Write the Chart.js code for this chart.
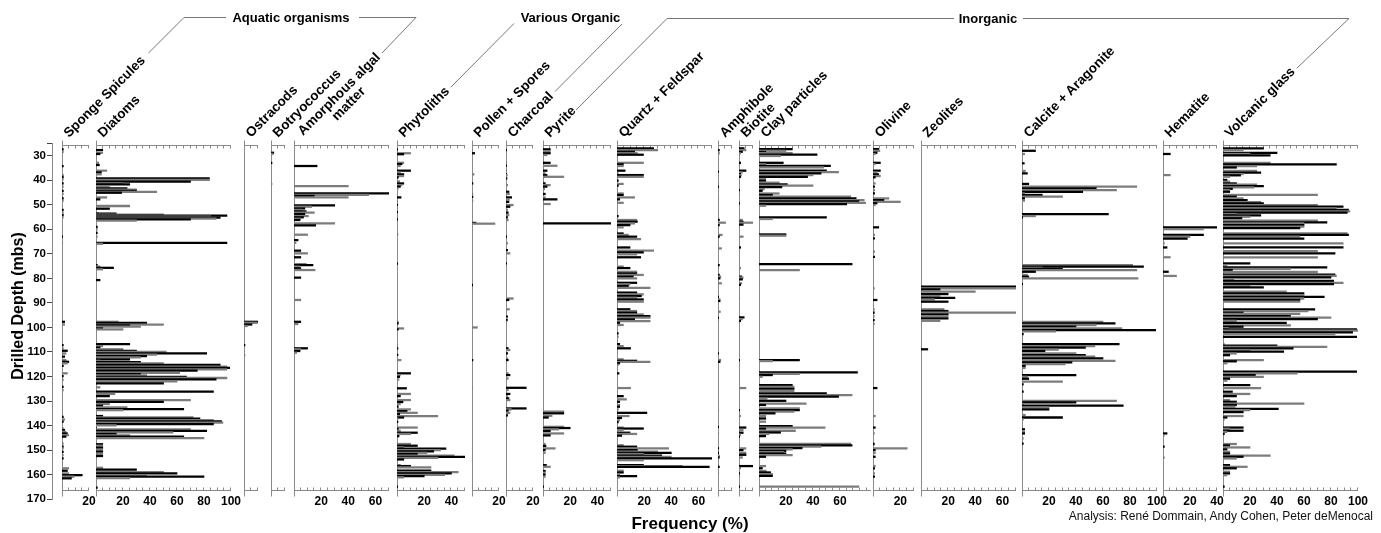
<!DOCTYPE html>
<html><head><meta charset="utf-8">
<script src="https://cdn.jsdelivr.net/npm/chart.js@4.4.1/dist/chart.umd.min.js"></script>
<style>
html,body{margin:0;padding:0;background:#fff;}
#wrap{position:relative;width:1381px;height:533px;overflow:hidden;background:#fff;}
#wrap canvas{position:absolute;top:0;}
#ov{position:absolute;left:0;top:0;pointer-events:none;}
</style></head><body>
<div id="wrap"><svg id="ov" width="1381" height="533" xmlns="http://www.w3.org/2000/svg"></svg></div>
<script>
// ---------- DATA: [depth (mbs), frequency (%)] ----------
const sponge = [[27.4,1],[28.4,1],[34.2,1],[37.9,1],[38.6,1],[39.6,1],[41.3,1],[42.6,1],[44.3,1],[45.6,1],[47.4,1],[48.3,1],[52.1,1],[53.2,1],[54.2,1],[55.1,1],[63,0.5],[65.5,0.5],[97.7,2],[98.8,2],[107.2,1],[108.5,1],[109.5,4],[110.6,3],[111.9,2],[113.3,3],[114,5],[114.6,4],[115.7,1],[118.7,4],[119.8,1],[121.4,1],[124.2,1],[125.5,1],[136.4,1],[137.5,2],[138.4,1],[141.1,1],[141.8,2],[142.5,3],[143.2,4],[143.9,5],[144.5,3],[147.3,1],[148.6,1],[149.3,1],[150.7,1],[152,1],[153.4,1],[157.4,5],[158.4,4],[159.5,5],[160.2,15],[160.8,9],[161.5,7],[164.9,0.5]];
const diatoms = [[27.7,5],[28.8,5],[29.3,3],[32.9,2],[33.8,2.5],[36.1,8],[36.8,4],[37.6,4],[39.2,84],[39.9,84],[40.6,70],[41.3,20],[41.7,25],[42.6,10],[43.3,23],[43.8,30],[44.3,30],[44.7,45],[45.1,19],[47,8],[47.8,3],[50.5,25],[51.6,10],[53.5,2],[53.6,15],[54,50],[54.4,97],[54.8,85],[55.2,92],[55.6,89],[56,70],[56.5,30],[59,1],[60,1],[61.5,1],[63,1],[65.5,97],[65.9,5],[74.6,1],[75.2,3],[75.7,13],[76.3,5],[80.7,3],[97.7,16.5],[98.1,37.5],[98.8,50],[99.2,25],[99.7,33],[100.4,5],[100.8,20],[106.8,25],[107.6,5],[108.2,3],[108.9,20],[109.5,30],[110,52],[110.6,82],[111.1,45],[111.7,37.5],[112.2,33],[113,25],[113.6,3],[114.1,33],[114.6,50],[115.3,92],[116,97],[116.5,99],[117.1,97],[117.6,75],[118.5,62],[119,33],[119.5,37.5],[120.1,67],[120.6,97],[121.2,89],[122,60],[122.8,50],[124.4,3],[126.2,87],[127.1,14],[128,10],[129.6,70],[130.3,50],[131.2,10],[131.9,5],[132.6,23],[133.3,65],[133.7,20],[136.1,5],[136.7,72],[137.2,77],[137.8,87],[138.3,93],[138.8,94],[139.4,87],[139.9,15],[141.1,0.5],[141.5,70],[142.2,82],[142.8,57],[143.4,15],[144,25],[144.5,65],[145.1,80],[147.6,5],[148.2,5],[149,5],[149.8,5],[150.6,5],[151.5,5],[152.4,5],[157.2,5],[157.9,30],[159,50],[159.5,60],[160.2,37.5],[160.8,80],[161.4,25],[165.3,1]];
const ostracods = [[97.7,10],[98.1,9.4],[98.8,5.7],[99.4,2.5],[107.2,0.7],[111.3,0.7]];
const botryococcus = [[28.8,2],[29.3,1.5],[32.9,0.7],[41.5,0.7]];
const amorphous = [[34.2,17],[42.4,40],[45.4,70],[46,55],[46.4,15],[47,40],[50.2,30],[50.8,13],[51.5,8],[52.1,6],[52.7,9],[53.2,15],[53.8,8],[54.6,10.6],[55.1,7],[55.7,5],[56.2,4.4],[57.6,30],[58.4,16],[62.2,10],[64.4,3],[65.5,1.5],[68.7,5],[69.8,10],[71.4,5],[74.2,9],[74.6,14],[75.2,4],[75.9,5],[76.6,15.5],[79.7,5],[88.8,5],[97.7,5],[98.6,3],[108.5,10],[108.9,5],[109.6,4.4],[110.3,2]];
const phytoliths = [[27.4,0.5],[29,10],[29.4,5],[32.9,5],[33.4,3.7],[34.2,2.5],[36.1,10],[36.8,2.5],[37.6,5],[38.3,5],[38.8,1],[40.5,2],[41.3,5],[42,3.7],[42.6,2.5],[43.3,1],[47,3],[48.5,0.5],[50,0.5],[51.5,0.5],[53,0.5],[54.5,0.5],[56,0.5],[62.2,0.7],[74,0.5],[97.7,1],[98.3,1],[100.4,5],[100.8,1],[107.2,0.5],[108.5,0.7],[109.9,0.5],[111.2,0.7],[113.3,3],[118.7,10],[119.4,2.5],[120.1,2],[121.2,1.5],[124.8,7],[127.1,10],[128,2.5],[129.6,10],[130.4,4.4],[131.2,2.5],[132.3,1],[133.4,10],[134.1,7.4],[134.8,15],[135.3,2],[136.1,30],[136.7,5],[137.2,0.7],[138.5,0.7],[140.8,15],[141.3,1],[142.1,2.5],[142.9,15],[143.4,10],[144.3,1.5],[147.5,10],[148.2,15],[148.9,5],[149.4,36],[150,32],[150.5,27],[151.1,22],[151.6,15],[152.2,42],[152.7,50],[153.2,30],[153.8,5],[156.1,2.5],[156.5,10],[157,25],[158.4,25],[159,45],[159.5,40],[160.1,35],[160.6,20],[161.1,5],[164.9,0.5]];
const pollen = [[29,2],[37.6,1.5],[41.3,0.7],[45.6,0.7],[46.8,0.7],[48.3,0.7],[57.4,3],[57.7,17],[82.7,0.5],[100,4],[113.3,0.7],[124.4,0.5]];
const charcoal = [[27.7,0.5],[33,0.5],[34,0.5],[36,0.5],[37.5,0.5],[37.9,1],[39.2,0.7],[42,1.2],[44.7,2.2],[45.6,2.5],[47,4.2],[47.8,2.5],[48.8,2.2],[50.1,5.4],[50.8,3],[52.1,1.2],[53.2,1.7],[54.2,2.2],[55.1,1.2],[56.2,1.7],[63,0.5],[65.7,1.2],[68.5,1.2],[69.8,3],[73.9,0.5],[88.2,5.4],[88.8,2.2],[92.6,2.5],[95.6,1.2],[96.3,1],[97,1],[97.7,0.5],[108.5,1.7],[109.2,3],[110.6,1.2],[112.7,1.2],[113.3,1.7],[118.7,1.7],[119.4,3],[120.8,1.7],[124.6,15],[125.5,1.7],[127.1,3],[128,1.2],[128.9,2.2],[129.6,3],[133,15],[133.4,4],[133.9,1.7],[134.8,3],[135.8,1.2]];
const pyrite = [[27.4,5.4],[28.2,5.4],[29,5.4],[29.7,3],[32.9,5.4],[34.1,10.4],[36.1,3],[37.2,1.7],[37.9,3],[38.6,15.3],[41.3,1.7],[42,5.4],[42.6,3],[43.6,1.2],[45.6,1.7],[47,1.7],[47.8,10.4],[49.7,5.4],[57.6,50],[134.3,15.3],[135,15.3],[136,6.7],[136.7,4],[140.5,15.3],[141,20],[141.5,11.6],[142.2,5.4],[143.2,15.3],[144,5.4],[147.5,1.7],[148.3,2.2],[149.3,9],[150,1.7],[151.1,1.7],[156.1,2.5],[156.8,5.4],[158.5,1.7],[159.2,1.7],[160,1.7],[160.8,1.7],[164.9,0.5]];
const quartz = [[27,27],[27.7,30],[28.4,13],[29,15],[29.6,19.5],[32.9,19.5],[33.5,4.7],[34.2,4.7],[36.1,6],[37.2,1],[37.9,19.5],[38.6,19.5],[40.2,1],[41.5,4.7],[42.2,1],[45.4,4.7],[46,4.7],[47,13],[47.8,2],[49.2,4.7],[54.6,1],[56.2,14.6],[56.9,15],[57.6,13],[58.3,9.6],[59.2,4.7],[61.7,4.7],[62.3,8.4],[63,14.6],[64,17.5],[67.4,9.6],[68.7,27],[69.4,19.5],[70.2,14.6],[71.4,17.5],[75.2,4.7],[75.8,9.6],[77.3,14.6],[78,14.6],[78.6,19.5],[79.3,12],[80,14.6],[81.8,14.6],[82.4,9.6],[83.1,8.4],[83.9,24.4],[85.8,14.6],[86.5,19.5],[87.2,18],[87.9,14.6],[88.6,19.5],[89.5,19.5],[92.6,9.6],[93.3,14.6],[94,14.6],[94.7,19.5],[95.4,24.4],[96,24.4],[96.7,13],[97.4,24.4],[98.1,2],[99,4.7],[102.4,1],[103.8,1],[106.8,2],[107.6,4.7],[108.5,10],[113,4.7],[113.6,14.6],[114,24.4],[114.6,2],[115.3,1],[118.7,1.5],[124.7,10],[128,4.7],[129.3,7],[130.3,2],[131.6,2],[132.3,2],[133.4,1],[134.8,22],[136.1,9],[136.9,3.5],[137.8,2],[138.6,1],[140.8,4.7],[141.2,19.5],[141.8,4.7],[142.9,9.6],[143.4,14.6],[144.1,3.5],[148,4.7],[148.6,14.6],[149.3,38],[150,15],[150.6,30],[151.1,40],[151.6,19.5],[152.2,33],[152.7,40],[153.4,70],[154.1,19.5],[156.1,19.5],[156.5,48],[156.8,68],[158.4,4.7],[159.1,4.7],[159.9,2],[160.6,14.6],[161.1,2]];
const amphibole = [[27.7,1],[29,1],[36.5,0.5],[41.3,0.5],[42.6,0.5],[47.4,0.5],[56.2,1],[57.3,5.4],[58.3,1],[62.3,3],[63,1],[67.8,2.5],[74.6,1],[75.9,0.5],[78.6,1],[79.3,2],[80,1.5],[82,2.5],[87.5,0.5],[88.6,1.5],[89.2,1.5],[93.6,1.7],[96,0.5],[97,0.5],[110.6,0.5],[113.3,2],[114,1.5],[133.7,0.5],[140.5,0.5],[143.2,0.5],[149.3,0.5],[150.2,0.5],[151.1,0.5],[152.2,1],[153,1],[156.1,0.5],[156.8,1],[159.5,0.5]];
const biotite = [[27,3.7],[27.7,5],[28.4,2.5],[29,1.2],[32.9,1.2],[33.8,0.5],[36.1,5],[36.8,2.5],[37.5,1.2],[38,1.7],[38.6,1.2],[41.3,0.5],[44,0.5],[45.6,0.5],[49.4,0.5],[56.2,2.5],[56.9,3],[57.3,10],[58.1,3],[63,3],[67.4,1.2],[75.8,1.2],[79.3,2],[79.7,3],[80.4,2.5],[82,2],[82.6,1.2],[88.2,0.5],[95.9,3.7],[96.6,2.5],[97.3,1.2],[98.1,0.5],[113.3,0.5],[124.7,5],[133.7,0.5],[136.1,1.2],[140.8,5],[141.8,3],[142.9,3],[143.7,1.2],[144.5,0.5],[149.3,5],[150,3],[151.1,5],[151.9,5],[153,2.5],[156.5,10],[157.3,1.2],[159.5,0.5],[160.8,0.5],[164.9,0.5]];
const clay = [[27.3,24.7],[28,20],[28.5,5],[29,24.7],[29.6,43],[30.1,16],[32.9,18],[33.5,5],[34.1,53],[34.8,48],[36.1,50],[36.7,59],[37.2,46],[37.9,40],[38.6,36],[39.5,5],[40.2,5],[41,15],[41.7,21],[42.2,40],[42.8,17],[43.6,4],[44.3,2.5],[45.4,15],[46,10],[46.7,68],[47.4,72],[48.1,78],[48.6,74],[49.2,79],[49.7,65],[50.4,5],[55.1,50],[55.8,10],[62.1,20],[62.6,20],[74.2,69],[76.6,30],[113.3,30],[113.7,10],[118.3,73],[118.9,30],[119.4,10],[120.1,2.5],[123.5,24.7],[124.2,26],[125,26],[125.8,26],[126.9,50],[127.6,69],[128.2,59],[129,6],[129.9,20],[131,35],[131.6,5],[133,30],[133.7,30],[134.3,26],[135,12],[136.1,5],[137.1,5],[138.4,5],[140.2,24.7],[140.8,49],[141.3,5],[142.1,27],[142.8,16],[143.4,7.4],[144.3,5],[147.5,68],[148.1,69],[148.6,46],[149.2,32],[149.7,24.7],[150.3,20],[150.8,18.5],[151.4,20],[152,24.7],[152.7,5],[156.5,5],[157.4,2.5],[158.5,5.4],[159.1,8.6],[159.8,10],[160.5,10],[164.9,74]];
const olivine = [[27.3,4.2],[28,5],[28.8,3],[29.3,1.7],[32.9,5.4],[33.4,1.7],[36.1,5.4],[36.8,3],[37.6,4.2],[38.3,5.4],[38.8,1.7],[41.3,1.7],[42.6,1.2],[44,1.2],[45.4,1.2],[47.4,11.6],[48.1,8],[48.8,20],[49.4,3],[50.1,1.7],[59.2,4.2],[62.3,1.2],[63.7,1.2],[69.1,1.2],[71.2,1.2],[84.1,1],[88.8,3],[92.6,1],[94,1],[95.5,1],[97,1],[98.5,1],[124.7,3],[136.1,1.7],[140.8,1.7],[143.2,1],[147.5,1],[149.3,25],[150,1.7],[151.1,1.7],[152.7,1.7],[156.5,1.7],[157.4,1.2],[159.5,1.2],[160.8,1.2]];
const zeolites = [[83.4,70],[84.1,70],[84.5,14],[85.4,40],[86.4,20],[87.2,14],[87.9,25],[88.6,10],[89.5,20],[92.6,17],[93.3,20],[94,70],[94.7,20],[95.4,20],[96.3,20],[97.3,14],[108.9,5]];
const calcite = [[28,10],[29.3,2],[33.1,1.7],[36.2,2.5],[37.2,4],[40.6,0.5],[41.5,5],[42.6,85],[43.3,55],[44,70],[44.7,45],[45.4,2],[46,15],[46.7,30],[47.4,2],[48.3,2],[53.8,64],[54.6,10],[55.1,0.5],[74.6,82],[75.2,90],[75.7,15],[76.1,30],[76.6,85],[77.3,10],[78.6,4],[79.3,5],[80,86],[82.3,0.5],[97.7,60],[98.3,69],[99,55],[99.7,40],[100.4,74],[101.1,99],[101.6,25],[102.7,1],[103.8,0.5],[106.8,72],[107.6,54],[108.2,47],[109,27],[109.6,17],[110.6,40],[111.3,47],[111.9,54],[112.6,60],[113.6,69],[114.2,37],[114.9,32],[115.7,2.5],[116.5,2.5],[119.4,40],[120.1,4],[120.9,5],[122.1,30],[123.2,1],[123.9,0.5],[126.2,1],[129.9,70],[130.5,40],[131.2,1],[131.9,75],[132.6,20],[133.4,20],[135.7,2.5],[136.7,30],[137.5,1],[141.5,2],[142.5,2],[143.2,2],[145.2,1],[147.3,1]];
const hematite = [[29.3,5.4],[37.9,5.4],[59.2,40],[59.9,30],[62.3,30],[63,20],[63.8,18],[65.7,1],[67.4,3],[71.4,5.4],[77.3,4],[79,10],[143.2,3],[144,1],[148.6,1],[153.1,1]];
const volcanic = [[27,30],[27.7,15],[28.8,40],[29.3,20],[29.9,35],[32.9,35],[33.5,84],[34.2,25],[34.8,10],[36.2,25],[36.9,28],[37.5,15],[38,13],[38.6,5],[39.9,3],[40.6,5],[41.3,10],[41.8,25],[42.4,30],[42.9,23],[43.5,7],[44,5],[44.7,5],[46,70],[46.7,10],[47.4,15],[48.1,18],[48.9,28],[49.4,30],[50.1,70],[50.8,89],[51.5,84],[52.1,93],[52.7,94],[53.2,92],[53.8,10],[54.3,28],[54.9,20],[55.5,14],[56.5,70],[57.2,77],[57.6,60],[58.3,60],[58.9,60],[59.5,57],[61.7,92],[62.3,93],[63,57],[63.8,60],[65.7,89],[67.4,89],[68.9,70],[69.8,83],[71.4,70],[73.9,20],[74.7,3],[75.5,77],[76.1,50],[76.6,7],[77.4,70],[78.5,83],[79,84],[79.6,80],[80.4,8],[81,82],[81.8,89],[82.3,82],[83.1,20],[83.7,30],[85.4,47],[86.1,60],[86.8,60],[87.5,75],[88.2,60],[88.8,57],[89.5,57],[92.6,68],[93.3,63],[94,15],[94.5,57],[95.4,50],[96,80],[96.6,70],[97.3,10],[98.1,47],[99.2,50],[99.7,15],[100.3,4],[100.8,99],[101.3,100],[102,96],[102.7,83],[103.8,99],[106.8,1],[107.4,40],[107.9,77],[108.5,52],[109.2,20],[109.9,45],[110.6,10],[111.3,5],[113.3,30],[113.8,10],[114.6,3],[118,99],[118.7,55],[119.4,24],[120.1,30],[120.9,5],[121.7,3],[123.5,20],[124.7,28],[126.2,7],[127.1,20],[128,10],[129.6,5],[130.3,10],[131,60],[131.6,10],[132.3,9],[133.2,41],[133.7,20],[134.5,15],[136.1,15],[136.7,3],[137.5,1],[140.8,15],[141.3,5],[142.1,15],[142.6,3],[143.4,1],[147.5,10],[148.1,5],[148.9,20],[149.7,3],[150.7,5],[151.4,5],[152.2,35],[152.7,15],[153.4,10],[156.1,5],[156.8,18],[157.4,10],[158.8,5],[159.5,5],[160.2,3],[164.9,1]];

const panelTitles = ['Sponge Spicules','Diatoms','Ostracods','Botryococcus','Amorphous algal\nmatter','Phytoliths','Pollen + Spores','Charcoal','Pyrite','Quartz + Feldspar','Amphibole','Biotite','Clay particles','Olivine','Zeolites','Calcite + Aragonite','Hematite','Volcanic glass'];
const panelMax = [20,100,10,10,70,50,20,20,50,70,10,10,83,30,70,100,40,100];
const panelSeries = [sponge,diatoms,ostracods,botryococcus,amorphous,phytoliths,pollen,charcoal,pyrite,quartz,amphibole,biotite,clay,olivine,zeolites,calcite,hematite,volcanic];
const depthTicks = [25,30,40,50,60,70,80,90,100,110,120,130,140,150,160,170];

// ---------- LAYOUT ----------
const panelLeft = [62,96,244,271,294,397,472,506,543,617,718,739,759,873,921,1022,1163,1223];
const PX_PER_PCT = 1.35;
const PANEL_TOP = 145, PANEL_BOTTOM = 490;
const PX_PER_M = 2.4536, Y30 = 155.7;
const depthAt = y => 30 + (y - Y30) / PX_PER_M;
const depthMin = depthTicks[0], depthMax = depthTicks[depthTicks.length - 1];
const H = 533;
const FONT = "'Liberation Sans', Arial, Helvetica, sans-serif";
const AXIS = '#8a8a8a', BLACK = '#000000', GRAY = '#7c7c7c';

Chart.defaults.font.family = FONT;
const wrap = document.getElementById('wrap');

const panelFrame = {
  id: 'panelFrame',
  beforeDatasetsDraw(chart) {
    const {ctx, chartArea: a} = chart;
    const x = chart.scales.x;
    const L = Math.floor(a.left) + 0.5, T = Math.floor(a.top) + 0.5, B = Math.floor(a.bottom) + 0.5;
    ctx.save();
    ctx.strokeStyle = AXIS; ctx.lineWidth = 1;
    ctx.beginPath();
    ctx.moveTo(L, T - 5); ctx.lineTo(L, B + 6);
    ctx.moveTo(L, T); ctx.lineTo(a.right, T);
    ctx.moveTo(L, B); ctx.lineTo(a.right, B);
    for (let v = 5; v <= x.max + 0.001; v += 5) {
      const px = Math.round(x.getPixelForValue(v)) - 0.5;
      ctx.moveTo(px, T); ctx.lineTo(px, T + 3);
      ctx.moveTo(px, B); ctx.lineTo(px, B - 3);
    }
    ctx.stroke();
    ctx.restore();
  }
};

function addCanvas(left, width) {
  const c = document.createElement('canvas');
  c.width = width; c.height = H;
  c.style.left = left + 'px'; c.style.width = width + 'px'; c.style.height = H + 'px';
  wrap.insertBefore(c, document.getElementById('ov'));
  return c;
}

// depth axis
(function () {
  const c = addCanvas(0, 60);
  new Chart(c, {
    type: 'scatter',
    data: { datasets: [{ data: [] }] },
    options: {
      responsive: false, animation: false, devicePixelRatio: 1,
      layout: { padding: { top: Y30 - (30 - depthMin) * PX_PER_M, bottom: H - (Y30 + (depthMax - 30) * PX_PER_M), left: 0, right: 0 } },
      plugins: { legend: { display: false }, tooltip: { enabled: false } },
      scales: {
        x: { display: false },
        y: {
          type: 'linear', reverse: true, min: depthMin, max: depthMax, position: 'left', offset: false,
          afterFit: s => { s.width = 52; },
          afterBuildTicks: s => { s.ticks = depthTicks.map(v => ({ value: v })); },
          border: { display: true, color: AXIS, width: 1 },
          grid: { drawOnChartArea: false, drawTicks: true, tickLength: 5, color: '#444' },
          ticks: { autoSkip: false, padding: 1, color: '#000',
            font: { family: FONT, size: 11.5, weight: 'bold' },
            callback: v => (v >= 30 && v % 10 === 0) ? String(v) : '' }
        }
      }
    }
  });
})();

// panels
const PAD = 18;
panelSeries.forEach((series, i) => {
  const w = Math.round(panelMax[i] * PX_PER_PCT);
  const c = addCanvas(panelLeft[i] - PAD, w + 2 * PAD);
  new Chart(c, {
    type: 'bar',
    data: { datasets: [{
      data: series.map(p => ({ x: p[1], y: p[0] })),
      backgroundColor: series.map((p, k) => (k % 2 === 0 ? BLACK : GRAY)),
      borderWidth: 0, barThickness: 1.6
    }] },
    options: {
      indexAxis: 'y', responsive: false, animation: false, devicePixelRatio: 1,
      layout: { padding: { left: PAD, right: PAD, top: PANEL_TOP, bottom: 0 } },
      plugins: { legend: { display: false }, tooltip: { enabled: false } },
      scales: {
        y: { type: 'linear', reverse: true, offset: false, min: depthAt(PANEL_TOP), max: depthAt(PANEL_BOTTOM), display: false },
        x: {
          type: 'linear', position: 'bottom', offset: false, min: 0, max: panelMax[i],
          grid: { display: false, drawTicks: false }, border: { display: false },
          afterFit: s => { s.height = H - PANEL_BOTTOM; s.paddingLeft = 0; s.paddingRight = 0; },
          ticks: { stepSize: 5, autoSkip: false, maxRotation: 0, minRotation: 0, padding: 4, color: '#000',
            font: { family: FONT, size: 12, weight: 'bold' },
            callback: v => (v > 0 && v % 20 === 0) ? String(v) : '' }
        }
      }
    },
    plugins: [panelFrame]
  });
});

// ---------- TEXT & BRACKETS (SVG overlay) ----------
const ov = document.getElementById('ov');
const NS = 'http://www.w3.org/2000/svg';
function el(tag, attrs, text, parent) {
  const e = document.createElementNS(NS, tag);
  for (const k in attrs) e.setAttribute(k, attrs[k]);
  if (text != null) e.textContent = text;
  (parent || ov).appendChild(e);
  return e;
}
const bold = { 'font-family': FONT, 'font-weight': 'bold', fill: '#000' };

panelTitles.forEach((t, i) => {
  const x = panelLeft[i] + 7, y = 138;
  const lines = t.split('\n');
  if (lines.length === 1) {
    el('text', Object.assign({ x, y, 'font-size': 13.5, transform: `rotate(-45 ${x} ${y})` }, bold), t);
  } else {
    const g = el('g', { transform: `translate(${x} ${y}) rotate(-45)` });
    el('text', Object.assign({ x: 58, y: 0, 'font-size': 13.5, 'text-anchor': 'middle' }, bold), lines[0], g);
    el('text', Object.assign({ x: 58, y: 13.5, 'font-size': 13.5, 'text-anchor': 'middle' }, bold), lines[1], g);
  }
});

const lineStyle = { fill: 'none', stroke: '#6a6a6a', 'stroke-width': 0.9 };
el('polyline', Object.assign({ points: '148.5,53 184,17.5 226,17.5' }, lineStyle));
el('text', Object.assign({ x: 291, y: 22, 'font-size': 13, 'text-anchor': 'middle' }, bold), 'Aquatic organisms');
el('polyline', Object.assign({ points: '359,17.5 416,17.5 382,53' }, lineStyle));
el('polyline', Object.assign({ points: '450.7,87.3 514,23.5' }, lineStyle));
el('text', Object.assign({ x: 570.5, y: 22, 'font-size': 13, 'text-anchor': 'middle' }, bold), 'Various Organic');
el('polyline', Object.assign({ points: '622,24 555,91.5' }, lineStyle));
el('polyline', Object.assign({ points: '576,110 667,18.5 954,18.5' }, lineStyle));
el('text', Object.assign({ x: 988, y: 23, 'font-size': 13, 'text-anchor': 'middle' }, bold), 'Inorganic');
el('polyline', Object.assign({ points: '1023,18.5 1349,18.5 1296.7,68.3' }, lineStyle));

el('text', Object.assign({ x: 0, y: 0, 'font-size': 16, 'text-anchor': 'middle', transform: 'translate(23 306) rotate(-90)' }, bold), 'Drilled Depth (mbs)');
el('text', Object.assign({ x: 690, y: 529, 'font-size': 17, 'text-anchor': 'middle' }, bold), 'Frequency (%)');
el('text', { x: 1373, y: 520, 'font-size': 12, 'text-anchor': 'end', 'font-family': FONT, fill: '#111' }, 'Analysis: René Dommain, Andy Cohen, Peter deMenocal');
</script>
</body></html>
